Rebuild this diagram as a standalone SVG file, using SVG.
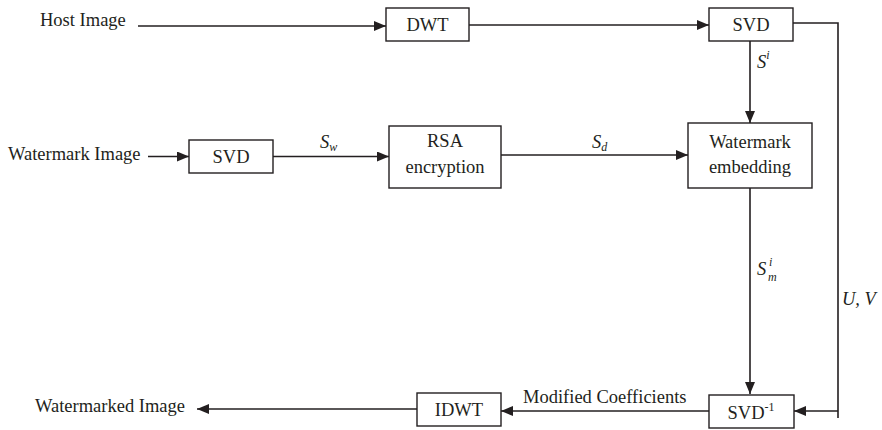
<svg xmlns="http://www.w3.org/2000/svg" width="882" height="430" viewBox="0 0 882 430">
  <style>
    .box { fill: #ffffff; stroke: #231f20; stroke-width: 1.4; }
    .wire { fill: none; stroke: #231f20; stroke-width: 1.6; }
    text { font-family: "Liberation Serif", "Times New Roman", Times, "DejaVu Serif", serif; font-size: 18.5px; fill: #231f20; }
    .mid { text-anchor: middle; }
    .it { font-style: italic; }
    .sm { font-size: 12px; }
  </style>
  <defs>
    <marker id="arrow" markerWidth="12" markerHeight="10" refX="12" refY="5" orient="auto" markerUnits="userSpaceOnUse">
      <path d="M0,0 L12,5 L0,10 Z" fill="#231f20"/>
    </marker>
  </defs>

  <rect width="882" height="430" fill="#ffffff"/>

  <!-- connectors -->
  <g id="connectors">
    <path class="wire" d="M138,26 L386,26" marker-end="url(#arrow)"/>
    <path class="wire" d="M469,25 L709,25" marker-end="url(#arrow)"/>
    <path class="wire" d="M750,41 L750,123" marker-end="url(#arrow)"/>
    <path class="wire" d="M148,156.5 L189,156.5" marker-end="url(#arrow)"/>
    <path class="wire" d="M273,156.5 L389,156.5" marker-end="url(#arrow)"/>
    <path class="wire" d="M501,155 L688,155" marker-end="url(#arrow)"/>
    <path class="wire" d="M750,188 L750,394" marker-end="url(#arrow)"/>
    <path class="wire" d="M793,23 L838,23 L838,418"/>
    <path class="wire" d="M838,411 L794,411" marker-end="url(#arrow)"/>
    <path class="wire" d="M709,411 L501,411" marker-end="url(#arrow)"/>
    <path class="wire" d="M417,409 L197,409" marker-end="url(#arrow)"/>
  </g>

  <!-- connector labels -->
  <g id="labels">
    <text x="40" y="26" font-family="Liberation Serif, serif">Host Image</text>
    <text x="8" y="160" font-family="Liberation Serif, serif">Watermark Image</text>
    <text x="35" y="412" font-family="Liberation Serif, serif">Watermarked Image</text>
    <text x="523" y="403" font-family="Liberation Serif, serif">Modified Coefficients</text>
    <text class="it" x="757" y="68">S<tspan class="sm" dy="-9">i</tspan></text>
    <text class="it" x="320" y="148">S<tspan class="sm" dy="3">w</tspan></text>
    <text class="it" x="592" y="148">S<tspan class="sm" dy="3">d</tspan></text>
    <text class="it" x="757" y="275">S</text>
    <text class="it sm" x="769" y="266">i</text>
    <text class="it sm" x="768" y="281">m</text>
    <text class="it" x="842" y="305">U, V</text>
  </g>

  <g id="dwt">
    <rect class="box" x="386" y="8" width="83" height="33"/>
    <text class="mid" x="427.5" y="31">DWT</text>
  </g>
  <g id="svd-host">
    <rect class="box" x="709" y="8" width="84" height="33"/>
    <text class="mid" x="751" y="31">SVD</text>
  </g>
  <g id="svd-watermark">
    <rect class="box" x="189" y="140" width="84" height="33"/>
    <text class="mid" x="231" y="163">SVD</text>
  </g>
  <g id="rsa">
    <rect class="box" x="389" y="126" width="112" height="62"/>
    <text class="mid" x="445" y="147">RSA</text>
    <text class="mid" x="445" y="173">encryption</text>
  </g>
  <g id="embedding">
    <rect class="box" x="688" y="123" width="124" height="65"/>
    <text class="mid" x="750" y="148">Watermark</text>
    <text class="mid" x="750" y="173">embedding</text>
  </g>
  <g id="svd-inverse">
    <rect class="box" x="709" y="395" width="85" height="33"/>
    <text class="mid" x="751" y="419">SVD<tspan class="sm" dy="-8">-1</tspan></text>
  </g>
  <g id="idwt">
    <rect class="box" x="417" y="393" width="84" height="33"/>
    <text class="mid" x="459" y="416">IDWT</text>
  </g>
</svg>
